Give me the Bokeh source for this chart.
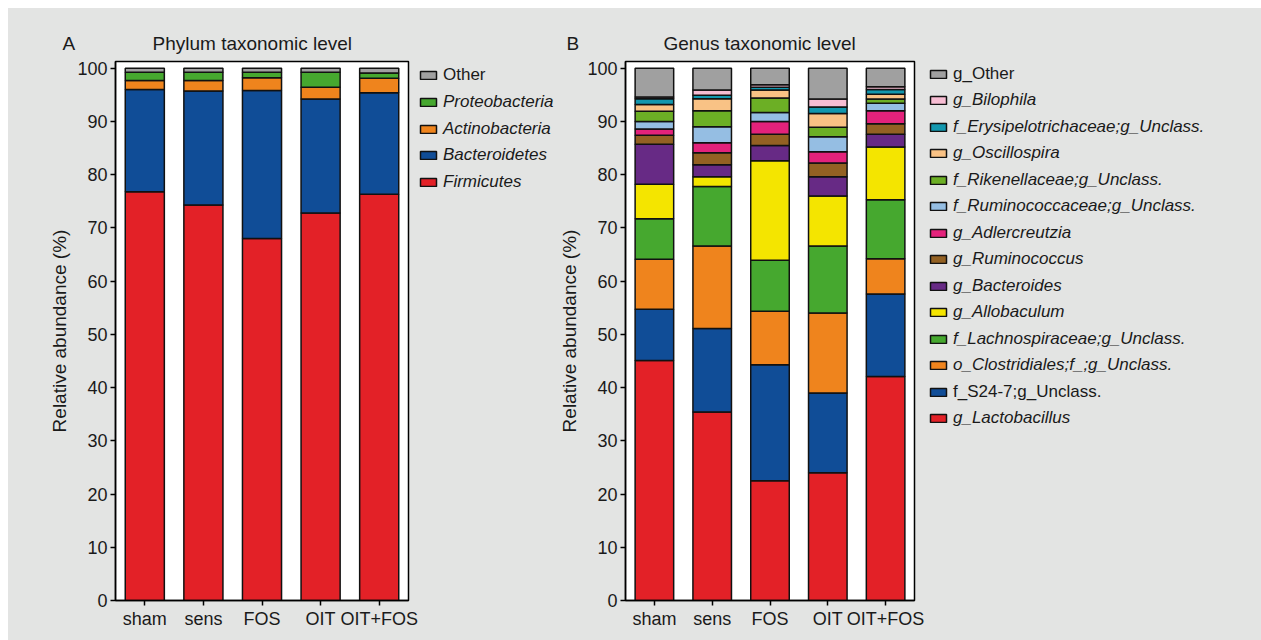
from bokeh.plotting import figure
from bokeh.models import (ColumnDataSource, Range1d, FactorRange, Legend, LegendItem,
                          Label, FixedTicker, Spacer)
from bokeh.layouts import row, column
from bokeh.embed import file_html
from bokeh.resources import INLINE

# ---------------- data ----------------
groups = ["sham", "sens", "FOS", "OIT", "OIT+FOS"]
y_ticks = [0, 10, 20, 30, 40, 50, 60, 70, 80, 90, 100]

# Phylum level (bottom -> top)
firmicutes = [76.8, 74.3, 68.0, 72.8, 76.3]
bacteroidetes = [19.2, 21.4, 27.8, 21.4, 19.1]
actinobacteria = [1.7, 2.0, 2.4, 2.2, 2.7]
proteobacteria = [1.55, 1.55, 1.05, 2.85, 1.0]
phylum_other = [0.75, 0.75, 0.75, 0.75, 0.9]

phylum_labels = ["Firmicutes", "Bacteroidetes", "Actinobacteria", "Proteobacteria", "Other"]
phylum_italic = [True, True, True, True, False]
phylum_colors = ["#e32127", "#104d97", "#ef841d", "#46a82f", "#a0a0a0"]

# Genus level (bottom -> top)
lactobacillus = [45.1, 35.4, 22.5, 24.0, 42.1]
s24_7 = [9.6, 15.7, 21.8, 15.0, 15.5]
clostridiales = [9.4, 15.5, 10.05, 15.0, 6.6]
lachnospiraceae = [7.6, 11.2, 9.55, 12.6, 11.1]
allobaculum = [6.5, 1.8, 18.7, 9.4, 9.9]
bacteroides = [7.5, 2.25, 2.9, 3.6, 2.4]
ruminococcus = [1.7, 2.25, 2.1, 2.6, 1.95]
adlercreutzia = [1.2, 1.9, 2.4, 2.1, 2.45]
ruminococcaceae = [1.4, 3.0, 1.7, 2.8, 1.4]
rikenellaceae = [1.9, 3.0, 2.7, 1.8, 0.8]
oscillospira = [1.3, 2.25, 1.5, 2.6, 0.9]
erysipelotrichaceae = [1.05, 0.65, 0.5, 1.2, 0.9]
bilophila = [0.35, 1.0, 0.5, 1.5, 0.5]
genus_other = [5.4, 4.1, 3.1, 5.8, 3.5]

genus_labels = ["g_Lactobacillus", "f_S24-7;g_Unclass.", "o_Clostridiales;f_;g_Unclass.",
                "f_Lachnospiraceae;g_Unclass.", "g_Allobaculum", "g_Bacteroides",
                "g_Ruminococcus", "g_Adlercreutzia", "f_Ruminococcaceae;g_Unclass.",
                "f_Rikenellaceae;g_Unclass.", "g_Oscillospira",
                "f_Erysipelotrichaceae;g_Unclass.", "g_Bilophila", "g_Other"]
genus_italic = [True, False, True, True, True, True, True, True, True, True, True, True, True, False]
genus_colors = ["#e32127", "#104d97", "#ef841d", "#46a82f", "#f4e500", "#672a85",
                "#936123", "#e3227b", "#95bee3", "#6caf25", "#f9c285", "#1297ae",
                "#f7bdd3", "#a0a0a0"]

# ---------------- styling / layout constants ----------------
BG = "#e3e4e3"
FONT = "Liberation Sans"
TXT = "#1a1a1a"
EDGE = "#111111"
CHART_H = 584
FRAME_BOTTOM = 600   # page px of the aligned frame bottom
NAN = float("nan")


def blank(width, height):
    f = figure(width=width, height=height, x_range=Range1d(0, 1), y_range=Range1d(0, 1),
               output_backend="svg", toolbar_location=None, min_border=0,
               x_axis_location=None, y_axis_location=None)
    f.border_fill_color = BG
    f.background_fill_color = BG
    f.outline_line_color = None
    f.xgrid.visible = False
    f.ygrid.visible = False
    return f


def make_chart(width, border_left, border_right, series, colors):
    keys = ["s%d" % i for i in range(len(series))]
    data = {"group": groups}
    for k, s in zip(keys, series):
        data[k] = s
    src = ColumnDataSource(data)

    p = figure(width=width, height=CHART_H,
               x_range=FactorRange(factors=groups, range_padding=0),
               y_range=Range1d(0, 101.26), output_backend="svg", toolbar_location=None,
               min_border_left=border_left, min_border_right=border_right,
               min_border_top=5, min_border_bottom=40)
    p.border_fill_color = BG
    p.background_fill_color = "white"
    p.outline_line_color = "black"
    p.outline_line_width = 1.5
    p.xgrid.visible = False
    p.ygrid.visible = False

    p.vbar_stack(keys, x="group", width=0.667, source=src, fill_color=colors,
                 line_color=EDGE, line_width=1.5)

    for ax in (p.xaxis[0], p.yaxis[0]):
        ax.axis_line_color = "black"
        ax.axis_line_width = 1.5
        ax.major_tick_line_color = "black"
        ax.major_tick_line_width = 1.5
        ax.major_tick_in = 0
        ax.major_tick_out = 5
        ax.minor_tick_line_color = None
        ax.major_label_text_font = FONT
        ax.major_label_text_font_size = "18px"
        ax.major_label_text_color = TXT
    p.xaxis.major_label_standoff = 3
    p.yaxis.major_label_standoff = 3
    p.yaxis.ticker = FixedTicker(ticks=y_ticks)
    p.yaxis.axis_label = "Relative abundance (%)"
    p.yaxis.axis_label_text_font = FONT
    p.yaxis.axis_label_text_font_size = "19px"
    p.yaxis.axis_label_text_font_style = "normal"
    p.yaxis.axis_label_text_color = TXT
    p.yaxis.axis_label_standoff = 4
    return p


def make_legend(width, labels, italic, colors, glyph_x, first_center, step, standoff):
    f = blank(width, CHART_H)
    n = len(labels)
    for row_i, idx in enumerate(reversed(range(n))):
        # legend swatch proxy: a single undrawn (NaN) bar carrying the series style
        proxy = f.vbar(x=[NAN], top=[NAN], width=0.5, fill_color=colors[idx],
                       line_color=EDGE, line_width=1.5)
        center = first_center + row_i * step           # page px from top
        vy = FRAME_BOTTOM - center - 11                  # legend row bottom above frame bottom
        lg = Legend(items=[LegendItem(label=labels[idx], renderers=[proxy])],
                    location=(glyph_x, vy), orientation="vertical",
                    padding=0, margin=0, spacing=0,
                    glyph_width=20, glyph_height=10, label_height=20,
                    label_standoff=standoff,
                    label_text_font=FONT, label_text_font_size="17px",
                    label_text_color=TXT,
                    label_text_font_style="italic" if italic[idx] else "normal",
                    background_fill_alpha=0, border_line_alpha=0)
        f.add_layout(lg, "center")
    return f


# header with panel letters and titles
header = blank(1253, 48)
for txt, x in [("A", 54), ("Phylum taxonomic level", 144), ("B", 558),
               ("Genus taxonomic level", 655)]:
    header.add_layout(Label(x=x, y=13, x_units="screen", y_units="screen", text=txt,
                            text_font=FONT, text_font_size="19px", text_color=TXT,
                            text_baseline="alphabetic", text_align="left"))

p1 = make_chart(410, 107, 10, [firmicutes, bacteroidetes, actinobacteria, proteobacteria,
                               phylum_other], phylum_colors)
leg1 = make_legend(138, phylum_labels, phylum_italic, phylum_colors, 0, 74, 26.8, 5)
p2 = make_chart(370, 67, 12, [lactobacillus, s24_7, clostridiales, lachnospiraceae,
                              allobaculum, bacteroides, ruminococcus, adlercreutzia,
                              ruminococcaceae, rikenellaceae, oscillospira,
                              erysipelotrichaceae, bilophila, genus_other], genus_colors)
leg2 = make_legend(335, genus_labels, genus_italic, genus_colors, 2, 73, 26.46, 5)

WHITE = {"background-color": "white"}
GRAY = {"background-color": BG}
layout = column(Spacer(height=8, width=1261, styles=WHITE),
                row(Spacer(width=8, height=48, styles=WHITE), header, spacing=0, styles=GRAY),
                row(Spacer(width=8, height=CHART_H, styles=WHITE), p1, leg1, p2, leg2,
                    spacing=0, styles=GRAY),
                spacing=0, styles=GRAY)
open("out.html", "w").write(file_html(layout, INLINE))
